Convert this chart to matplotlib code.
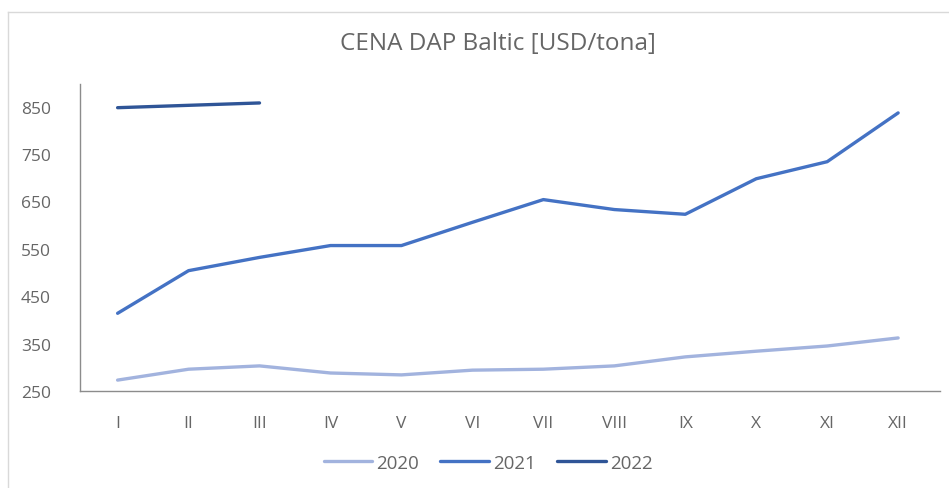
import matplotlib
matplotlib.use("Agg")
import matplotlib.pyplot as plt
from matplotlib.lines import Line2D

months = ["I", "II", "III", "IV", "V", "VI", "VII", "VIII", "IX", "X", "XI", "XII"]
price_2020 = [273, 296, 303, 288, 284, 294, 296, 303, 322, 334, 345, 362]
price_2021 = [414, 504, 532, 557, 557, 606, 654, 633, 623, 698, 734, 837]
price_2022 = [848, 853, 858]
yticks = [250, 350, 450, 550, 650, 750, 850]

colors = {"2020": "#A2B3DE", "2021": "#4472C4", "2022": "#2F5597"}
text_color = "#666666"

plt.rcParams["font.family"] = ["Open Sans", "DejaVu Sans"]

fig = plt.figure(figsize=(9.49, 4.89), dpi=100)
ax = fig.add_axes([80 / 949, 97 / 489, 860 / 949, 307 / 489])

lw = 2.4
x = list(range(len(months)))
ax.plot(x, price_2020, color=colors["2020"], lw=lw, solid_capstyle="round", label="2020")
ax.plot(x, price_2021, color=colors["2021"], lw=lw, solid_capstyle="round", label="2021")
ax.plot(x[:len(price_2022)], price_2022, color=colors["2022"], lw=lw,
        solid_capstyle="round", label="2022")

ax.set_xlim(-0.53, 11.59)
ax.set_ylim(250, 898)
ax.set_xticks(x)
ax.set_xticklabels(months)
ax.set_yticks(yticks)
ax.tick_params(axis="both", length=0, labelsize=12.5, colors=text_color)
ax.tick_params(axis="x", pad=17)
ax.tick_params(axis="y", pad=21)

for s in ["top", "right"]:
    ax.spines[s].set_visible(False)
for s in ["left", "bottom"]:
    ax.spines[s].set_color("#8C8C8C")
    ax.spines[s].set_linewidth(1)

fig.text(498 / 949, 1 - 44 / 489, "CENA DAP Baltic [USD/tona]", ha="center", va="center",
         fontsize=17.5, color=text_color)

handles = [Line2D([], [], color=colors[k], lw=lw, solid_capstyle="round") for k in ["2020", "2021", "2022"]]
fig.legend(handles, ["2020", "2021", "2022"], loc="center", bbox_to_anchor=(488 / 949, 1 - 464 / 489),
           ncol=3, frameon=False, fontsize=13.5, labelcolor=text_color,
           handlelength=2.6, handletextpad=0.2, columnspacing=1.15)

# chart border lines (top and left)
fig.add_artist(Line2D([8 / 949, 1], [1 - 13 / 489, 1 - 13 / 489], color="#D9D9D9", lw=1))
fig.add_artist(Line2D([8 / 949, 8 / 949], [0, 1 - 13 / 489], color="#D9D9D9", lw=1))

fig.savefig("out.png", dpi=100, facecolor="white")
